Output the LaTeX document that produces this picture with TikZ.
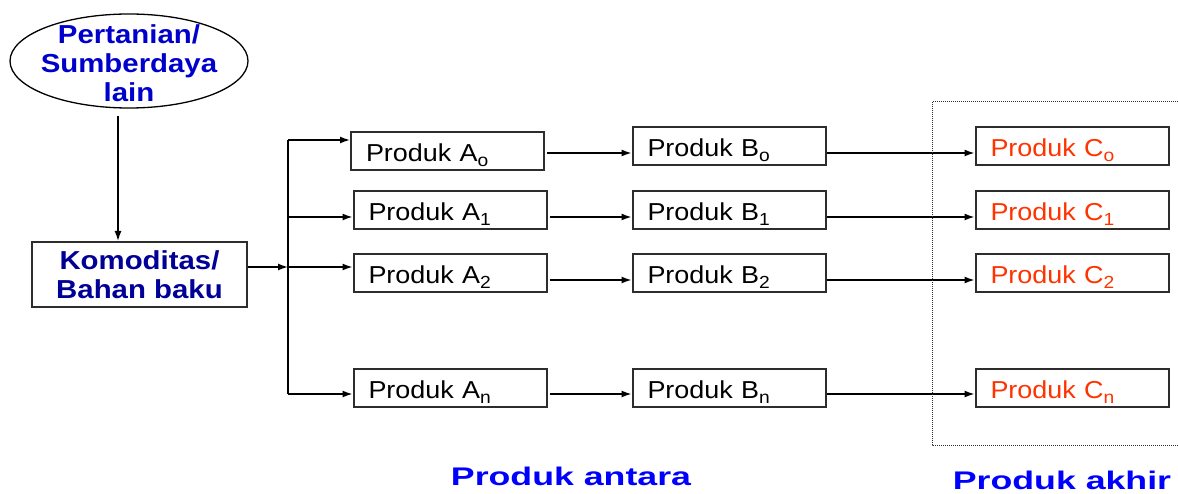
\documentclass[tikz,border=0pt]{standalone}
\usepackage{fontspec}
\setmainfont{Liberation Sans}
\newfontfamily\isi[FakeStretch=1.1]{Liberation Sans}
\newfontfamily\tebal[FakeStretch=1.13]{Liberation Sans}
\newfontfamily\lebar[FakeStretch=1.4]{Liberation Sans}
\usepackage{xcolor}
\usepackage{tikz}
\usetikzlibrary{positioning,arrows.meta,shapes.geometric}
\definecolor{birusumber}{RGB}{0,0,205}
\definecolor{birukom}{RGB}{0,0,150}
\definecolor{birulabel}{RGB}{0,0,255}
\definecolor{merah}{RGB}{255,51,0}
\definecolor{garis}{RGB}{45,45,45}
\newcommand{\idx}[1]{\raisebox{-5pt}{\fontsize{17.5}{17.5}\selectfont #1}}

\begin{document}
\begin{tikzpicture}[x=1pt,y=-1pt,>={Latex[length=10pt,width=7pt]},
    panah/.style={->,line width=1.4pt},
    kotak/.style={draw=garis,line width=2pt,text width=163pt,align=left,inner xsep=15pt,
        inner ysep=0pt,minimum height=38pt,text height=21pt,text depth=0pt,
        font=\isi\fontsize{24.5}{26}\selectfont},
    tebaltxt/.style={font=\tebal\bfseries\fontsize{26}{28.8}\selectfont,align=center},
    judul/.style={font=\lebar\bfseries\fontsize{25.5}{28}\selectfont,text=birulabel,anchor=base,inner sep=0pt}]
  \useasboundingbox (0,0) rectangle (1178,494);

  % sumber dan komoditas
  \node[ellipse,draw=black,line width=1.3pt,minimum width=238pt,minimum height=94pt,inner sep=0pt] (sumber) at (129,61) {};
  \node[tebaltxt,text=birusumber] (sumbertxt) at (129,63) {Pertanian/\\Sumberdaya\\lain};
  \node[draw=garis,line width=2pt,minimum width=215pt,minimum height=65pt,inner sep=0pt,
        tebaltxt,text=birukom] (kom) at (139.5,274.5) {Komoditas/\\Bahan baku};
  \draw[panah] ([xshift=-11pt,yshift=-7pt]sumber.south) -- ([xshift=-11pt]sumber.south |- kom.north);

  % produk A, B, C
  \node[kotak] (Ao) at (447.5,151) {Produk A\idx{o}};
  \node[kotak] (A1) at (450,210) {Produk A\idx{1}};
  \node[kotak] (A2) at (450,273) {Produk A\idx{2}};
  \node[kotak] (An) at (450,387.5) {Produk A\idx{n}};
  \node[kotak] (Bo) at (729,146.5) {Produk B\idx{o}};
  \node[kotak] (B1) at (729,210) {Produk B\idx{1}};
  \node[kotak] (B2) at (729,273.5) {Produk B\idx{2}};
  \node[kotak] (Bn) at (729,387.5) {Produk B\idx{n}};
  \node[kotak,text=merah] (Co) at (1072,146.5) {Produk C\idx{o}};
  \node[kotak,text=merah] (C1) at (1072,210) {Produk C\idx{1}};
  \node[kotak,text=merah] (C2) at (1072,273) {Produk C\idx{2}};
  \node[kotak,text=merah] (Cn) at (1072,387.5) {Produk C\idx{n}};

  % percabangan
  \coordinate (cabang) at (288,267);
  \draw[panah] (kom.east |- cabang) -- (cabang);
  \draw[line width=1.4pt] (288,140) -- (288,394);
  \foreach \r/\ya in {o/140,1/217,2/267,n/394}{
    \coordinate (j\r) at (288,\ya);
    \draw[panah] (j\r) -- (j\r -| A\r.west);
  }
  \foreach \r/\yb in {o/153,1/217,2/280,n/394}{
    \coordinate (k\r) at (0,\yb);
    \draw[panah] ([xshift=2pt]A\r.east |- k\r) -- (B\r.west |- k\r);
    \draw[panah] (B\r.east |- k\r) -- (C\r.west |- k\r);
  }

  % kotak titik-titik produk akhir
  \draw[garis,line width=1pt,dash pattern=on 1pt off 1pt] (1182,102) -- (932,102) -- (932,445) -- (1182,445);

  \node[judul] (antara) at (571,485) {Produk antara};
  \node[judul] (akhir) at (1062,489) {Produk akhir};
\end{tikzpicture}
\end{document}
